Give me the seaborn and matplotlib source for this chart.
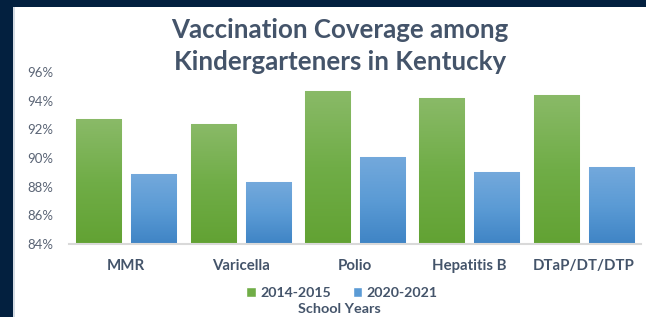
import matplotlib
matplotlib.use("Agg")
import matplotlib.pyplot as plt
from matplotlib.patches import Rectangle, Patch
from matplotlib.colors import LinearSegmentedColormap
import seaborn as sns
import pandas as pd
import numpy as np

vaccines = ["MMR", "Varicella", "Polio", "Hepatitis B", "DTaP/DT/DTP"]
school_years = ["2014-2015", "2020-2021"]
cov_2014_2015 = [92.7, 92.4, 94.7, 94.2, 94.4]
cov_2020_2021 = [88.9, 88.3, 90.1, 89.0, 89.4]
y_ticks = [84, 86, 88, 90, 92, 94, 96]

df = pd.DataFrame({
    "Vaccine": vaccines * 2,
    "Year": [school_years[0]] * len(vaccines) + [school_years[1]] * len(vaccines),
    "Coverage": cov_2014_2015 + cov_2020_2021,
})

sns.set_style("white")
plt.rcParams["font.family"] = ["Lato", "DejaVu Sans"]

text_col = "#44546a"
tick_col = "#5a6475"
green = "#70ad47"
blue = "#5b9bd5"
green_cmap = LinearSegmentedColormap.from_list("g", ["#62a233", "#70ad47", "#8aba68"])
blue_cmap = LinearSegmentedColormap.from_list("b", ["#3f84c5", "#5b9bd5", "#74a9dc"])

fig = plt.figure(figsize=(6.46, 3.17), dpi=100)
ax = fig.add_axes([69 / 646, 73 / 317, 572 / 646, 172 / 317])

sns.barplot(data=df, x="Vaccine", y="Coverage", hue="Year", order=vaccines,
            hue_order=school_years, palette=[green, blue], width=0.96, gap=0.18,
            ax=ax, legend=False, saturation=1)

ymin, ymax = y_ticks[0], y_ticks[-1]
grad = np.linspace(0, 1, 256).reshape(-1, 1)
for i, bar in enumerate(ax.patches):
    cmap = green_cmap if i < len(vaccines) else blue_cmap
    x0 = bar.get_x()
    x1 = x0 + bar.get_width()
    top = bar.get_height()
    bar.set_edgecolor("#d8e8f0" if i >= len(vaccines) else "#cfe3c0")
    bar.set_linewidth(0.8)
    im = ax.imshow(grad, extent=[x0, x1, ymin, top], origin="lower", aspect="auto",
                   cmap=cmap, zorder=bar.get_zorder() + 0.1)
    im.set_clip_path(bar)

ax.set_xlim(-0.5, len(vaccines) - 0.5)
ax.set_ylim(ymin, ymax)
ax.set_yticks(y_ticks)
ax.set_yticklabels([f"{t}%" for t in y_ticks])
ax.set_xlabel("")
ax.set_ylabel("")
for s in ["top", "right", "left"]:
    ax.spines[s].set_visible(False)
ax.spines["bottom"].set_color("#d9d9d9")
ax.spines["bottom"].set_linewidth(1.5)
ax.tick_params(axis="y", length=0, pad=11, labelsize=9.5, labelcolor=tick_col)
ax.tick_params(axis="x", length=0, pad=11, labelsize=10.8, labelcolor=text_col)
for lbl in ax.get_xticklabels():
    lbl.set_fontweight("bold")

fig.text(340 / 646, 1 - 30 / 317, "Vaccination Coverage among", ha="center", va="center",
         fontsize=18.6, fontweight="bold", color=text_col)
fig.text(340 / 646, 1 - 62 / 317, "Kindergarteners in Kentucky", ha="center", va="center",
         fontsize=18.6, fontweight="bold", color=text_col)

handles = [Patch(facecolor=green), Patch(facecolor=blue)]
fig.legend(handles, school_years, loc="center", bbox_to_anchor=(342 / 646, 1 - 293 / 317),
           ncol=2, frameon=False, handlelength=0.7, handleheight=0.7, handletextpad=0.3,
           columnspacing=1.5, prop={"weight": "bold", "size": 10.2}, labelcolor=text_col)
fig.text(339 / 646, 1 - 309 / 317, "School Years", ha="center", va="center",
         fontsize=10.4, fontweight="bold", color=text_col)

# dark frame on the left and top
fig.add_artist(Rectangle((0, 0), 13 / 646, 1, transform=fig.transFigure,
                         facecolor="#03203f", edgecolor="none"))
fig.add_artist(Rectangle((13 / 646, 0), 1.5 / 646, 1, transform=fig.transFigure,
                         facecolor="#d5dce4", edgecolor="none"))
fig.add_artist(Rectangle((0, 1 - 7 / 317), 1, 7 / 317, transform=fig.transFigure,
                         facecolor="#03203f", edgecolor="none"))

fig.savefig("out.png", dpi=100)
